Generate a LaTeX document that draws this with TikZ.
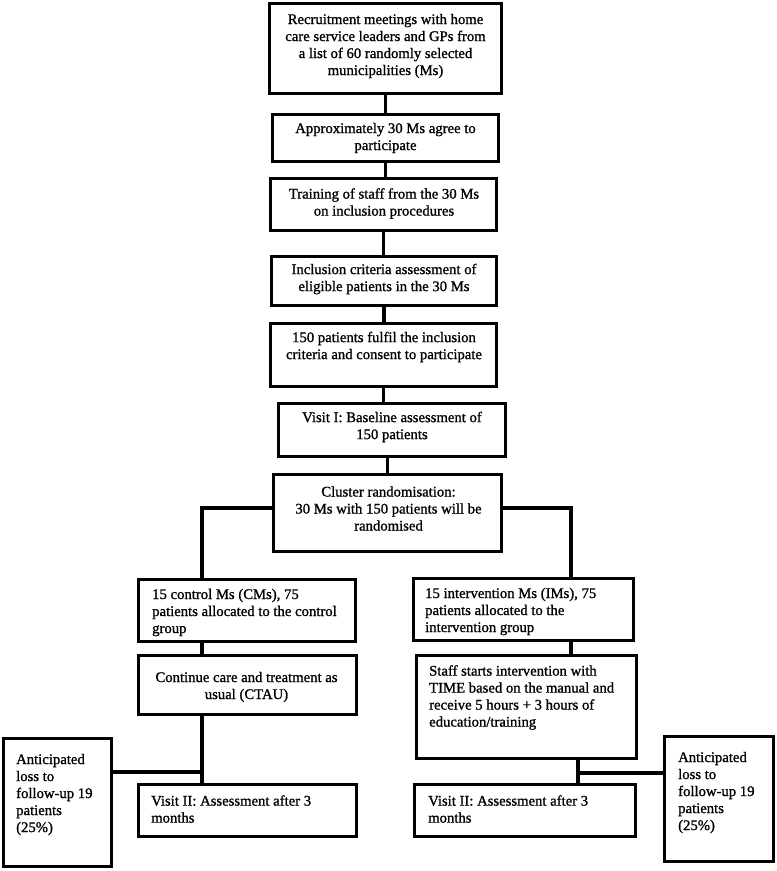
\documentclass[tikz,border=0pt]{standalone}
\usepackage{fontspec}
\setmainfont{Liberation Serif}
\newfontfamily\flowfont{Liberation Serif}[FakeBold=1.1]
\begin{document}
\begin{tikzpicture}[x=1pt,y=-1pt,
  box/.style={draw=black, line width=3.6pt, inner sep=0pt, rectangle},
  txt/.style={inner sep=0pt, font=\flowfont\fontsize{14.7}{17}\selectfont},
  conn/.style={draw=black, line width=3.6pt}]
\fill[white] (0,0) rectangle (777,871);
\useasboundingbox (0,0) rectangle (777,871);
% boxes
\node[box, minimum width=232pt, minimum height=90pt] (b1) at (385.5,48.5) {};
\node[box, minimum width=226pt, minimum height=47pt] (b2) at (385.5,138) {};
\node[box, minimum width=226pt, minimum height=52pt] (b3) at (383.5,204.5) {};
\node[box, minimum width=225pt, minimum height=49pt] (b4) at (384,281) {};
\node[box, minimum width=226pt, minimum height=63pt] (b5) at (383.5,355) {};
\node[box, minimum width=227pt, minimum height=53pt] (b6) at (392,430) {};
\node[box, minimum width=228pt, minimum height=77pt] (b7) at (387.5,513) {};
\node[box, minimum width=217pt, minimum height=62pt] (b8) at (247,610.5) {};
\node[box, minimum width=218pt, minimum height=59pt] (b9) at (247.5,685) {};
\node[box, minimum width=108pt, minimum height=128pt] (b10) at (57.5,802.5) {};
\node[box, minimum width=218pt, minimum height=52pt] (b11) at (247.5,810.5) {};
\node[box, minimum width=220pt, minimum height=62pt] (b12) at (523.5,609.5) {};
\node[box, minimum width=220pt, minimum height=103pt] (b13) at (526.5,707) {};
\node[box, minimum width=221pt, minimum height=52pt] (b14) at (525,810.5) {};
\node[box, minimum width=109pt, minimum height=125pt] (b15) at (719,799) {};
% texts
\node[txt, align=center] (t1) at (385.5,46) {Recruitment meetings with home\\care service leaders and GPs from\\a list of 60 randomly selected\\municipalities (Ms)};
\node[txt, align=center] (t2) at (385.5,138) {Approximately 30 Ms agree to\\participate};
\node[txt, align=center] (t3) at (384,203.5) {Training of staff from the 30 Ms\\on inclusion procedures};
\node[txt, align=center] (t4) at (384,279) {Inclusion criteria assessment of\\eligible patients in the 30 Ms};
\node[txt, align=center] (t5) at (384,347) {150 patients fulfil the inclusion\\criteria and consent to participate};
\node[txt, align=center] (t6) at (392,427) {Visit I: Baseline assessment of\\150 patients};
\node[txt, align=center] (t7) at (388.5,508.5) {Cluster randomisation:\\30 Ms with 150 patients will be\\randomised};
\node[txt, align=left, anchor=west] (t8) at (152,612.5) {15 control Ms (CMs), 75\\patients allocated to the control\\group};
\node[txt, align=center] (t9) at (246.5,687) {Continue care and treatment as\\usual (CTAU)};
\node[txt, align=left, anchor=west] (t10) at (16,794.5) {Anticipated\\loss to\\follow-up 19\\patients\\(25\%)};
\node[txt, align=left, anchor=west] (t11) at (151,809) {Visit II: Assessment after 3\\months};
\node[txt, align=left, anchor=west] (t12) at (425,611.5) {15 intervention Ms (IMs), 75\\patients allocated to the\\intervention group};
\node[txt, align=left, anchor=west] (t13) at (429,697.5) {Staff starts intervention with\\TIME based on the manual and\\receive 5 hours + 3 hours of\\education/training};
\node[txt, align=left, anchor=west] (t14) at (428,809) {Visit II: Assessment after 3\\months};
\node[txt, align=left, anchor=west] (t15) at (678,792.5) {Anticipated\\loss to\\follow-up 19\\patients\\(25\%)};
% connectors
\draw[conn] (b1.south) -- (b1.south |- b2.north);
\draw[conn] (b2.south) -- (b2.south |- b3.north);
\draw[conn] (b3.south) -- (b3.south |- b4.north);
\draw[conn] (b4.south) -- (b4.south |- b5.north);
\draw[conn] (b5.south) -- (b5.south |- b6.north);
\draw[conn] (b7.north |- b6.south) -- (b7.north);
\coordinate (sl) at (202,508);
\coordinate (sr) at (571,508);
\draw[conn] (b7.west |- sl) -- (sl) -- (sl |- b8.north);
\draw[conn] (b7.east |- sr) -- (sr) -- (sr |- b12.north);
\draw[conn] (sl |- b8.south) -- (sl |- b9.north);
\draw[conn] (sl |- b9.south) -- (sl |- b11.north);
\coordinate (jl) at (202,772);
\draw[conn] (b10.east |- jl) -- (jl);
\draw[conn] (sr |- b12.south) -- (sr |- b13.north);
\coordinate (cr) at (578,773);
\draw[conn] (cr |- b13.south) -- (cr |- b14.north);
\draw[conn] (cr) -- (b15.west |- cr);
\end{tikzpicture}
\end{document}
